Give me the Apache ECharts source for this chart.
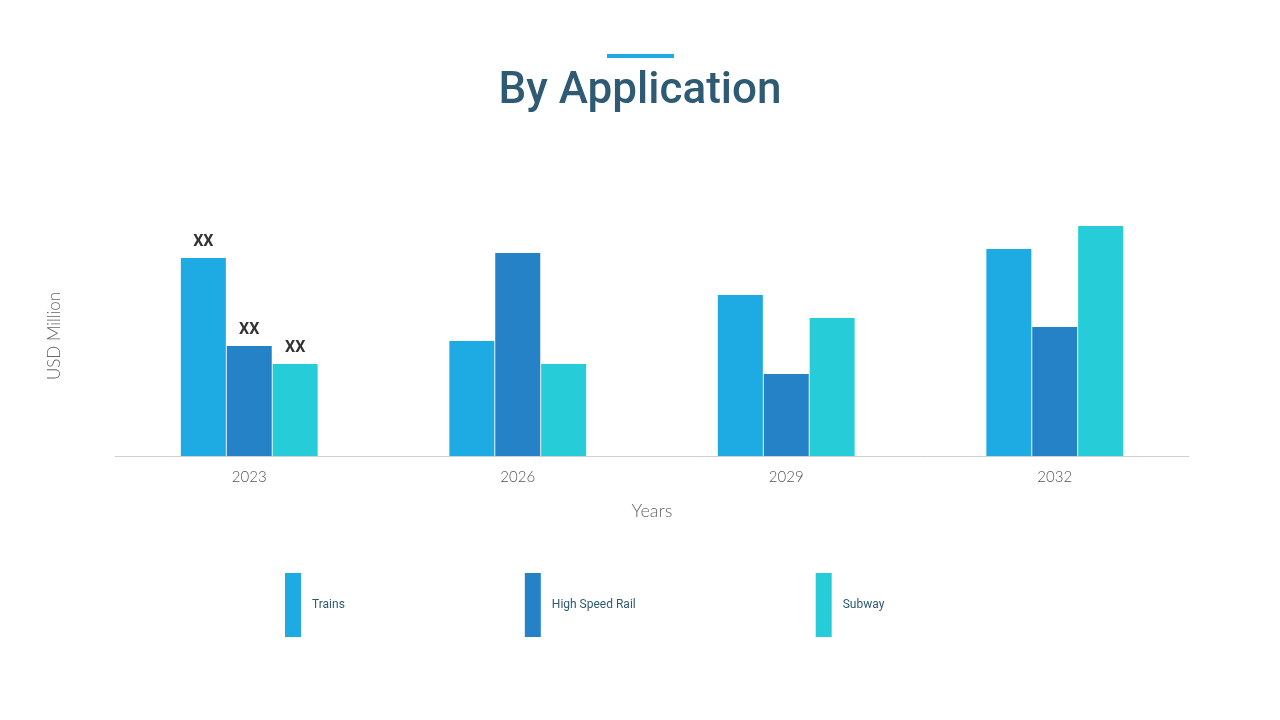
<!DOCTYPE html>
<html>
<head>
<meta charset="utf-8">
<script src="https://cdn.jsdelivr.net/npm/echarts@6/dist/echarts.min.js"></script>
<style>html,body{margin:0;padding:0;background:#fff}#main{width:1280px;height:720px}</style>
</head>
<body>
<div id="main"></div>
<script>
var years = ['2023', '2026', '2029', '2032'];
var seriesNames = ['Trains', 'High Speed Rail', 'Subway'];
var trains = [198, 115, 161, 207];
var highSpeedRail = [110, 203, 82, 129];
var subway = [92, 92, 138, 230];
var colors = ['#1EAAE2', '#2682C6', '#26CDD8'];

var chart = echarts.init(document.getElementById('main'));

function makeSeries(name, values, color) {
    return {
        name: name,
        type: 'bar',
        barWidth: 45,
        barGap: '2%',
        itemStyle: { color: color },
        data: values.map(function (v, i) {
            return {
                value: v,
                label: { show: i === 0 }
            };
        }),
        label: {
            position: 'top',
            formatter: 'XX',
            color: '#333',
            fontFamily: 'Roboto',
            fontWeight: 'bold',
            fontSize: 16,
            distance: 8
        }
    };
}

chart.setOption({
    graphic: [
        { type: 'rect', shape: { x: 607, y: 54, width: 67, height: 4 }, style: { fill: '#1EAAE2' } },
        { type: 'text', left: 'center', top: 70, style: { text: 'By Application', fill: '#2E5A74', font: '500 44px Roboto' } }
    ],
    grid: { left: 115, right: 91, top: 216, bottom: 264 },
    legend: {
        left: 280,
        top: 568,
        itemGap: 180,
        itemWidth: 16,
        itemHeight: 64,
        icon: 'rect',
        textStyle: { color: '#2E5A74', fontFamily: 'Roboto', fontSize: 12, padding: [0, 0, 42, 6], width: 80 },
        data: seriesNames
    },
    xAxis: {
        type: 'category',
        data: years,
        name: 'Years',
        nameLocation: 'middle',
        nameGap: 46,
        nameTextStyle: { color: '#666', fontFamily: 'Lato', fontWeight: 300, fontSize: 18 },
        axisLine: { lineStyle: { color: '#d0d0d0' } },
        axisTick: { show: false },
        axisLabel: { color: '#555', fontFamily: 'Lato', fontWeight: 300, fontSize: 15, margin: 14 }
    },
    yAxis: {
        type: 'value',
        min: 0,
        max: 240,
        name: 'USD Million',
        nameLocation: 'middle',
        nameGap: 52,
        nameTextStyle: { color: '#666', fontFamily: 'Lato', fontWeight: 300, fontSize: 17 },
        axisLabel: { show: false },
        splitLine: { show: false },
        axisLine: { show: false },
        axisTick: { show: false }
    },
    series: [
        makeSeries(seriesNames[0], trains, colors[0]),
        makeSeries(seriesNames[1], highSpeedRail, colors[1]),
        makeSeries(seriesNames[2], subway, colors[2])
    ]
});
</script>
</body>
</html>
